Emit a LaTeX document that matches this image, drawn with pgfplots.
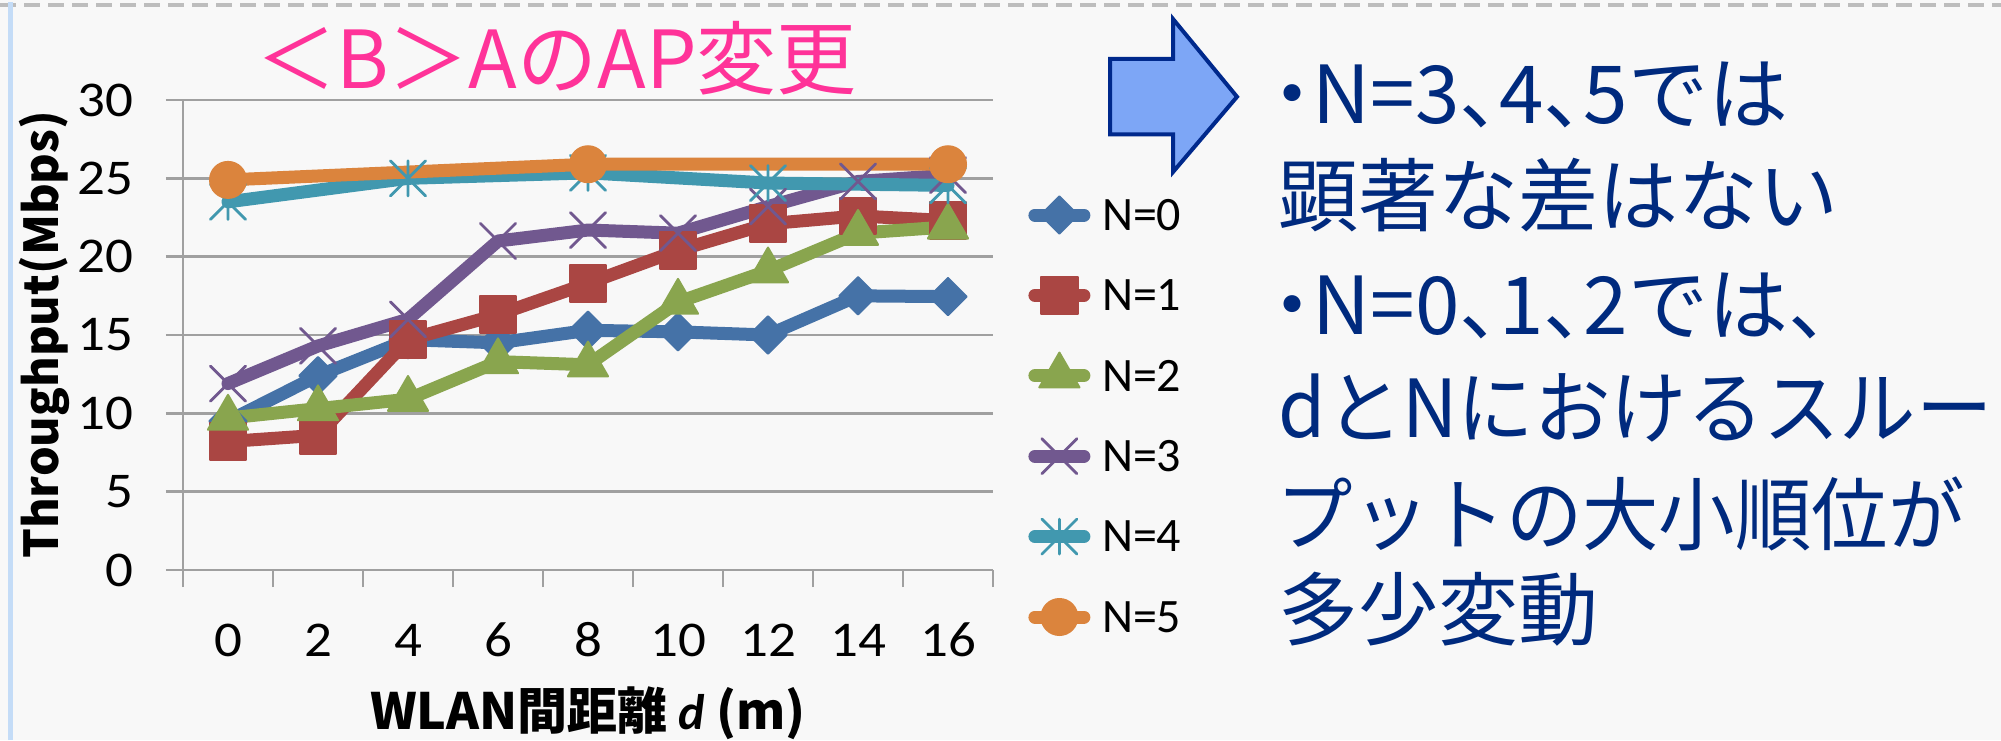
\documentclass[border=0pt]{standalone}
\usepackage{fontspec}
\usepackage{pgfplots}
\pgfplotsset{compat=1.18}
\setmainfont{Carlito}
\newfontfamily\tickfont{Carlito}[FakeStretch=1.1]
\newfontfamily\jp{Noto Sans CJK JP}
\newfontfamily\jphalt{Noto Sans CJK JP}[RawFeature=+halt]
\newfontfamily\jpnarrow{Noto Sans CJK JP}[RawFeature=+halt, FakeStretch=0.955]

\definecolor{bgcol}{HTML}{F8F8F8}
\definecolor{dashcol}{HTML}{BDBDBD}
\definecolor{edgecol}{HTML}{C4DCF7}
\definecolor{gridcol}{HTML}{A0A0A0}
\definecolor{titlepink}{HTML}{FF3399}
\definecolor{navy}{HTML}{002A7E}
\definecolor{arrowfill}{HTML}{7DA6F6}
\definecolor{arrowline}{HTML}{00298C}
\definecolor{cN0}{HTML}{4572A7}
\definecolor{cN1}{HTML}{AA4643}
\definecolor{cN2}{HTML}{89A54E}
\definecolor{cN3}{HTML}{71588F}
\definecolor{cN4}{HTML}{4198AF}
\definecolor{cN5}{HTML}{DB843D}

% Excel style star: an x with a vertical bar
\pgfdeclareplotmark{xstar}{%
  \pgfpathmoveto{\pgfqpoint{-.7071\pgfplotmarksize}{-.7071\pgfplotmarksize}}%
  \pgfpathlineto{\pgfqpoint{.7071\pgfplotmarksize}{.7071\pgfplotmarksize}}%
  \pgfpathmoveto{\pgfqpoint{-.7071\pgfplotmarksize}{.7071\pgfplotmarksize}}%
  \pgfpathlineto{\pgfqpoint{.7071\pgfplotmarksize}{-.7071\pgfplotmarksize}}%
  \pgfpathmoveto{\pgfqpoint{0pt}{-.7071\pgfplotmarksize}}%
  \pgfpathlineto{\pgfqpoint{0pt}{.7071\pgfplotmarksize}}%
  \pgfusepathqstroke}

\begin{document}
\begin{tikzpicture}
\useasboundingbox (0,0) rectangle (500.25pt,185pt);
\fill[bgcol] (0,0) rectangle (500.25pt,185pt);
\draw[dashcol, line width=1pt, dash pattern=on 4pt off 2pt] (0,183.75pt) -- (500.25pt,183.75pt);
\draw[edgecol, line width=1.25pt] (2.6pt,0) -- (2.6pt,184.5pt);

% title
\node[anchor=base, text=titlepink, font=\jp\fontsize{20}{24}\selectfont, inner sep=0pt]
  at (139.1pt,162.75pt) {＜B＞AのAP変更};

\begin{axis}[
  at={(45.75pt,42.5pt)}, anchor=south west,
  scale only axis, width=202.5pt, height=117.5pt,
  xmin=-1, xmax=17, ymin=0, ymax=30,
  clip=false,
  axis x line*=bottom, axis y line*=left,
  axis line style={gridcol, line width=0.6pt, -},
  xtick={-1,1,...,17}, xticklabels={},
  extra x ticks={0,2,...,16},
  extra x tick labels={0,2,4,6,8,10,12,14,16},
  extra x tick style={major tick length=0pt},
  ytick={0,5,...,30},
  tick align=outside,
  major tick length=4.25pt,
  tick style={gridcol, line width=0.6pt},
  ymajorgrids, grid style={gridcol, line width=0.6pt},
  /pgf/number format/assume math mode=true,
  ticklabel style={font=\tickfont\fontsize{12.5}{14}\selectfont, text=black},
  xticklabel style={anchor=center, inner sep=0pt, yshift=-17.5pt},
  yticklabel style={anchor=east, inner sep=0pt, xshift=-8pt},
  xlabel={WLAN間距離 {\normalfont\bfseries\itshape d} (m)},
  xlabel style={at={(axis description cs:0.5,-0.304)}, anchor=center,
    font=\jp\bfseries\fontsize{12.5}{15}\selectfont},
  ylabel={Throughput(Mbps)},
  ylabel style={at={(axis description cs:-0.1716,0.5)}, anchor=center,
    font=\jp\bfseries\fontsize{11.7}{14}\selectfont},
  every axis plot/.append style={line width=3.25pt, line join=round, line cap=round},
  legend style={at={(axis description cs:1.0437,0.8064)}, anchor=north west,
    draw=none, fill=none, inner sep=0pt, outer sep=0pt,
    row sep=8.1pt, column sep=2.9pt,
    font=\fontsize{12}{14}\selectfont,
    nodes={inner sep=0pt, text height=9.8pt, text depth=2.2pt, anchor=west}},
  legend cell align=left,
  legend image code/.code={%
    \draw[mark repeat=2,mark phase=2,#1] plot coordinates {(0pt,0pt) (6.125pt,0pt) (12.25pt,0pt)};},
]
\addplot[cN0, mark=square*, mark size=3.3pt, mark options={rotate=45, line width=0.5pt, fill=cN0}]
  coordinates {(0,9.5) (2,12.4) (4,14.7) (6,14.5) (8,15.3) (10,15.2) (12,15.0) (14,17.5) (16,17.45)};
\addlegendentry{N=0}
\addplot[cN1, mark=square*, mark size=4.6pt, mark options={line width=0.5pt, fill=cN1}]
  coordinates {(0,8.2) (2,8.6) (4,14.7) (6,16.3) (8,18.3) (10,20.4) (12,22.1) (14,22.6) (16,22.3)};
\addlegendentry{N=1}
\addplot[cN2, mark=triangle*, mark size=5.8pt, mark options={line width=0.5pt, fill=cN2}]
  coordinates {(0,9.7) (2,10.3) (4,10.9) (6,13.3) (8,13.1) (10,17.1) (12,19.1) (14,21.5) (16,21.9)};
\addlegendentry{N=2}
\addplot[cN3, mark=x, mark size=6.2pt, mark options={line width=0.7pt}]
  coordinates {(0,11.9) (2,14.3) (4,16.0) (6,21.0) (8,21.7) (10,21.5) (12,23.2) (14,24.8) (16,25.2)};
\addlegendentry{N=3}
\addplot[cN4, mark=xstar, mark size=6.2pt, mark options={line width=0.7pt}]
  coordinates {(0,23.5) (4,25.0) (8,25.35) (12,24.7) (16,24.55)};
\addlegendentry{N=4}
\addplot[cN5, mark=*, mark size=4.5pt, mark options={line width=0.5pt, fill=cN5}]
  coordinates {(0,24.9) (8,25.9) (16,25.9)};
\addlegendentry{N=5}
\end{axis}

% arrow
\draw[arrowline, fill=arrowfill, line width=1pt, line join=miter]
  (277.5pt,170.25pt) -- (293.25pt,170.25pt) -- (293.25pt,180.25pt) -- (309.25pt,160.8pt)
  -- (293.25pt,142pt) -- (293.25pt,151.4pt) -- (277.5pt,151.4pt) -- cycle;

% commentary
\begin{scope}[every node/.style={anchor=base west, inner sep=0pt, text=navy}]
\node[font=\jphalt\fontsize{20}{24}\selectfont] at (318pt,154pt) {・N=3、4、5では};
\node[font=\jphalt\fontsize{20}{24}\selectfont] at (319.5pt,128.5pt) {顕著な差はない};
\node[font=\jphalt\fontsize{20}{24}\selectfont] at (318pt,101.5pt) {・N=0、1、2では、};
\node[font=\jpnarrow\fontsize{20}{24}\selectfont] at (319.5pt,75.75pt) {dとNにおけるスルー};
\node[font=\jpnarrow\fontsize{20}{24}\selectfont] at (319pt,49pt) {プットの大小順位が};
\node[font=\jphalt\fontsize{20}{24}\selectfont] at (319.5pt,25.25pt) {多少変動};
\end{scope}
\end{tikzpicture}
\end{document}
